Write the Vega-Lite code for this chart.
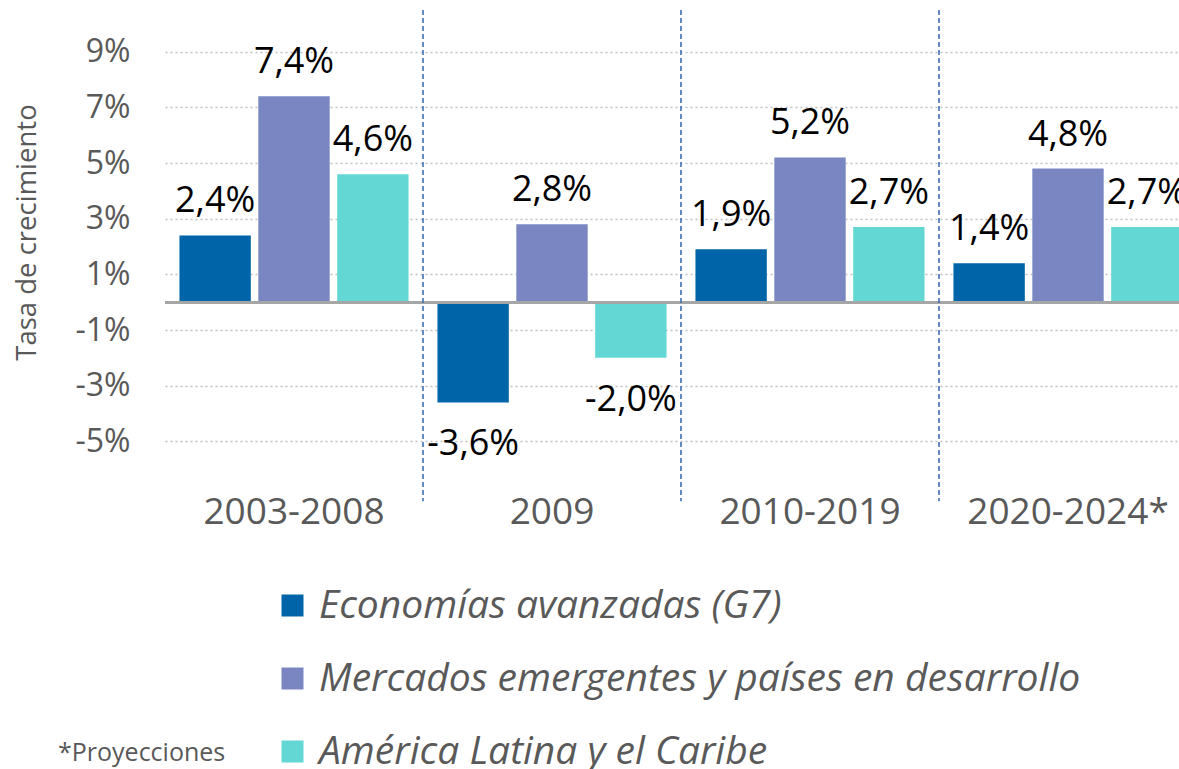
{
  "$schema": "https://vega.github.io/schema/vega-lite/v6.json",
  "width": 1014,
  "height": 487,
  "autosize": {"type": "none"},
  "padding": {"left": 165, "top": 10, "right": 0, "bottom": 272},
  "config": {
    "locale": {"number": {"decimal": ",", "thousands": ".", "grouping": [3], "currency": ["", " €"], "minus": "-"}},
    "font": "Open Sans",
    "view": {"stroke": null}
  },
  "title": {
    "text": "*Proyecciones",
    "orient": "bottom",
    "anchor": "start",
    "frame": "group",
    "fontSize": 25,
    "fontWeight": "normal",
    "color": "#595959",
    "dx": -107,
    "offset": -31
  },
  "datasets": {
    "growth": [
      {"period": "2003-2008", "series": "Economías avanzadas (G7)", "value": 0.024},
      {"period": "2003-2008", "series": "Mercados emergentes y países en desarrollo", "value": 0.074},
      {"period": "2003-2008", "series": "América Latina y el Caribe", "value": 0.046},
      {"period": "2009", "series": "Economías avanzadas (G7)", "value": -0.036},
      {"period": "2009", "series": "Mercados emergentes y países en desarrollo", "value": 0.028},
      {"period": "2009", "series": "América Latina y el Caribe", "value": -0.020},
      {"period": "2010-2019", "series": "Economías avanzadas (G7)", "value": 0.019},
      {"period": "2010-2019", "series": "Mercados emergentes y países en desarrollo", "value": 0.052},
      {"period": "2010-2019", "series": "América Latina y el Caribe", "value": 0.027},
      {"period": "2020-2024*", "series": "Economías avanzadas (G7)", "value": 0.014},
      {"period": "2020-2024*", "series": "Mercados emergentes y países en desarrollo", "value": 0.048},
      {"period": "2020-2024*", "series": "América Latina y el Caribe", "value": 0.027}
    ],
    "dividers": [
      {"period": "2009"},
      {"period": "2010-2019"},
      {"period": "2020-2024*"}
    ]
  },
  "data": {"name": "growth"},
  "encoding": {
    "x": {
      "field": "period",
      "type": "nominal",
      "sort": ["2003-2008", "2009", "2010-2019", "2020-2024*"],
      "scale": {"paddingInner": 0.112, "paddingOuter": 0.056, "range": [0, 1032]},
      "axis": {
        "title": null,
        "labelAngle": 0,
        "labelFontSize": 37,
        "labelColor": "#595959",
        "labelPadding": -3,
        "labelLimit": 1000,
        "domain": false,
        "ticks": false,
        "grid": false
      }
    }
  },
  "layer": [
    {
      "mark": {"type": "bar"},
      "encoding": {
        "xOffset": {
          "field": "series",
          "type": "nominal",
          "sort": ["Economías avanzadas (G7)", "Mercados emergentes y países en desarrollo", "América Latina y el Caribe"],
          "scale": {"paddingInner": 0.095, "paddingOuter": 0}
        },
        "y": {
          "field": "value",
          "type": "quantitative",
          "scale": {"domain": [-0.07, 0.105], "nice": false, "zero": false},
          "axis": {
            "title": "Tasa de crecimiento",
            "format": ".0%",
            "values": [-0.05, -0.03, -0.01, 0.01, 0.03, 0.05, 0.07, 0.09],
            "domain": false,
            "ticks": false,
            "labelFontSize": 32,
            "labelColor": "#595959",
            "labelPadding": 35,
            "gridColor": "#BFBFBF",
            "gridDash": [2, 3],
            "gridWidth": 1.3,
            "titleFontSize": 27.5,
            "titleFontWeight": "normal",
            "titleColor": "#595959",
            "titleAngle": -90,
            "titleX": -138,
            "titleY": 222,
            "titleBaseline": "middle",
            "titleAlign": "center"
          }
        },
        "color": {
          "field": "series",
          "type": "nominal",
          "sort": ["Economías avanzadas (G7)", "Mercados emergentes y países en desarrollo", "América Latina y el Caribe"],
          "scale": {"range": ["#0065A8", "#7A86C2", "#63D7D3"]},
          "legend": {
            "title": null,
            "orient": "none",
            "legendX": 108,
            "legendY": 576,
            "direction": "vertical",
            "symbolType": "square",
            "symbolSize": 484,
            "symbolStrokeWidth": 0,
            "labelFontSize": 39,
            "labelFontStyle": "italic",
            "labelColor": "#595959",
            "labelOffset": 7,
            "labelLimit": 1000,
            "rowPadding": 33
          }
        }
      }
    },
    {
      "mark": {"type": "rule", "color": "#A6A6A6", "strokeWidth": 2.5},
      "encoding": {"y": {"datum": 0}, "x": null}
    },
    {
      "transform": [{"filter": "datum.value >= 0"}],
      "mark": {"type": "text", "fontSize": 36, "color": "#000000", "baseline": "alphabetic", "dy": -23},
      "encoding": {
        "xOffset": {
          "field": "series",
          "type": "nominal",
          "sort": ["Economías avanzadas (G7)", "Mercados emergentes y países en desarrollo", "América Latina y el Caribe"]
        },
        "y": {"field": "value", "type": "quantitative"},
        "text": {"field": "value", "type": "quantitative", "format": ".1%"}
      }
    },
    {
      "transform": [{"filter": "datum.value < 0"}],
      "mark": {"type": "text", "fontSize": 36, "color": "#000000", "baseline": "alphabetic", "dy": 53},
      "encoding": {
        "xOffset": {
          "field": "series",
          "type": "nominal",
          "sort": ["Economías avanzadas (G7)", "Mercados emergentes y países en desarrollo", "América Latina y el Caribe"]
        },
        "y": {"field": "value", "type": "quantitative"},
        "text": {"field": "value", "type": "quantitative", "format": ".1%"}
      }
    },
    {
      "data": {"name": "dividers"},
      "mark": {"type": "rule", "color": "#3F6FB8", "strokeWidth": 1.6, "strokeDash": [5, 3]},
      "encoding": {
        "x": {"field": "period", "type": "nominal", "bandPosition": -0.0631},
        "y": {"datum": 0.105},
        "y2": {"datum": -0.0715}
      }
    }
  ]
}
